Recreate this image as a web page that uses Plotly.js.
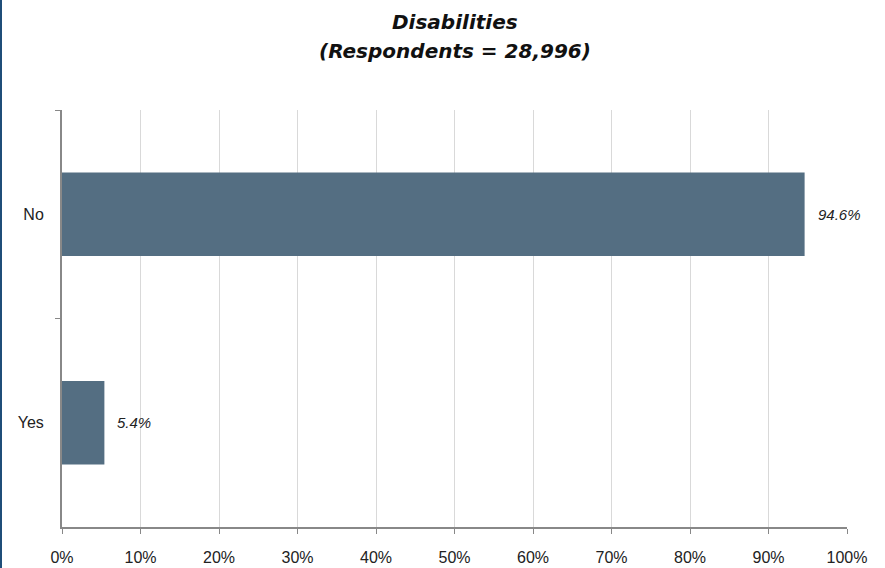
<!DOCTYPE html>
<html>
<head>
<meta charset="utf-8">
<script src="https://cdn.plot.ly/plotly-3.0.1.min.js"></script>
<style>
html,body{margin:0;padding:0;background:#fff;}
#chart{width:885px;height:568px;position:absolute;left:0;top:0;}
#edge{position:absolute;left:0;top:0;width:2px;height:568px;background:#1f4e79;}
</style>
</head>
<body>
<div id="chart"></div>
<div id="edge"></div>
<script>
const categories = ['No', 'Yes'];
const values = [94.6, 5.4];
const labels = ['94.6%', '5.4%'];
const xTicks = [0,10,20,30,40,50,60,70,80,90,100];
const xTickLabels = ['0%','10%','20%','30%','40%','50%','60%','70%','80%','90%','100%'];
const titleLines = ['Disabilities', '(Respondents = 28,996)'];

const trace = {
  type: 'bar',
  orientation: 'h',
  x: values,
  y: categories,
  width: 0.4,
  marker: {color: '#546e82'},
  hoverinfo: 'none'
};

const labelFont = {family: 'Liberation Sans, Arial, sans-serif', size: 15, color: '#222', style: 'italic'};
const annotations = categories.map((c, i) => ({
  x: values[i], y: c, xref: 'x', yref: 'y',
  text: labels[i], showarrow: false, xanchor: 'left', xshift: 11,
  font: labelFont
}));

// title lines (plot area: top 110px, height 417px)
const titleY = [1 + (110 - 22) / 417, 1 + (110 - 51) / 417];
titleLines.forEach((t, i) => annotations.push({
  x: 0.5, xref: 'paper', y: titleY[i], yref: 'paper',
  text: '<b><i>' + t + '</i></b>', showarrow: false,
  xanchor: 'center', yanchor: 'middle',
  font: {family: 'DejaVu Sans, sans-serif', size: 20, color: '#111'}
}));

const tickFont = {family: 'Liberation Sans, Arial, sans-serif', size: 16, color: '#222'};
const layout = {
  width: 885, height: 568,
  margin: {l: 62, r: 38, t: 110, b: 41},
  paper_bgcolor: '#fff', plot_bgcolor: '#fff',
  showlegend: false,
  xaxis: {
    range: [0, 100], tickvals: xTicks, ticktext: xTickLabels,
    showgrid: true, gridcolor: '#d9d9d9', gridwidth: 1,
    showline: true, linecolor: '#888', linewidth: 2,
    ticks: 'outside', ticklen: 5, tickcolor: '#888', tickwidth: 1,
    ticklabelstandoff: 10,
    tickfont: tickFont,
    zeroline: false, fixedrange: true
  },
  yaxis: {
    type: 'category', autorange: 'reversed',
    showline: true, linecolor: '#888', linewidth: 2,
    ticks: 'outside', tickson: 'boundaries', ticklen: 5, tickcolor: '#888', tickwidth: 1,
    ticklabelstandoff: 13,
    tickfont: tickFont,
    showgrid: false, zeroline: false, fixedrange: true
  },
  annotations: annotations
};

Plotly.newPlot('chart', [trace], layout, {displayModeBar: false, staticPlot: true});
</script>
</body>
</html>
